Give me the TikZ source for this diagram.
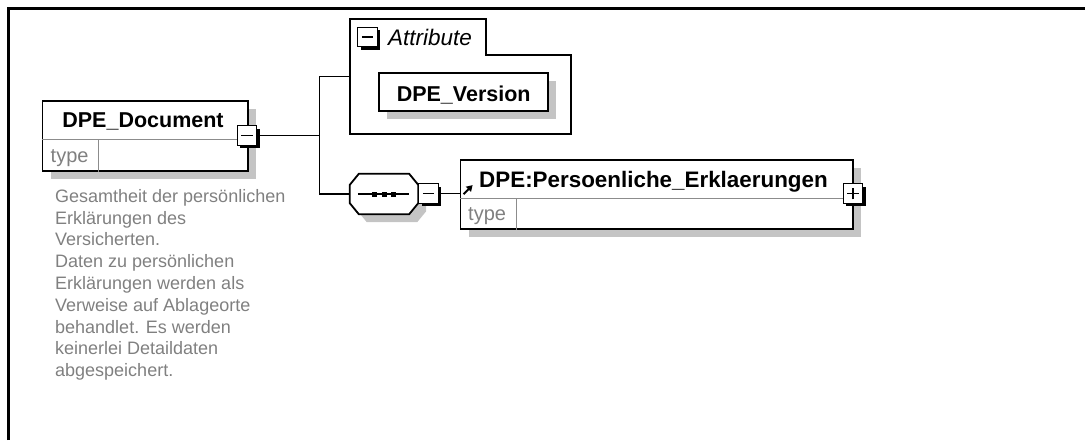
\documentclass[tikz,border=0pt]{standalone}
\usepackage{fontspec}
\setmainfont{Liberation Sans}
\usepackage{tikz}
\usetikzlibrary{arrows.meta, positioning, shadows}
\definecolor{xsgray}{HTML}{808080}
\definecolor{xsshade}{HTML}{C4C4C4}
\definecolor{xsline}{HTML}{8C8C8C}
\tikzset{
  elbox/.style={draw=black,fill=white,line width=1.8pt,inner sep=0pt,
    drop shadow={shadow xshift=8pt,shadow yshift=-8pt,fill=xsshade,opacity=1}},
  seqnode/.style={inner sep=0pt,minimum width=68pt,minimum height=40pt},
  seqoct/.style={insert path={([xshift=9pt]#1.north west) -- ([xshift=-9pt]#1.north east)
    -- ([yshift=-11pt]#1.north east) -- ([yshift=11pt]#1.south east)
    -- ([xshift=-9pt]#1.south east) -- ([xshift=9pt]#1.south west)
    -- ([yshift=11pt]#1.south west) -- ([yshift=-11pt]#1.north west) -- cycle}},
  togbox/.style={draw=black,fill=white,line width=1.4pt,minimum size=19.5pt,inner sep=0pt,
    drop shadow={shadow xshift=3pt,shadow yshift=-3pt,fill=black,opacity=1}},
  togminus/.style={togbox,path picture={
    \draw[line width=1.5pt] ([xshift=4pt]path picture bounding box.west) -- ([xshift=-4pt]path picture bounding box.east);}},
  togplus/.style={togbox,path picture={
    \draw[line width=1.5pt] ([xshift=4pt]path picture bounding box.west) -- ([xshift=-4pt]path picture bounding box.east);
    \draw[line width=1.5pt] ([yshift=4pt]path picture bounding box.south) -- ([yshift=-4pt]path picture bounding box.north);}},
  nametext/.style={inner sep=0pt,font=\bfseries\fontsize{21.5}{24}\selectfont},
  attrtext/.style={inner sep=0pt,font=\itshape\fontsize{22.5}{24}\selectfont},
  typetext/.style={inner sep=0pt,text=xsgray,font=\fontsize{20}{22}\selectfont},
  desctext/.style={inner sep=0pt,text=xsgray,align=left,font=\fontsize{18}{21.8}\selectfont},
  conedge/.style={line width=1.8pt,black},
  divline/.style={line width=1pt,xsline},
  grpline/.style={line width=1.8pt,black},
  refarrow/.style={-{Triangle[length=6pt,width=7pt]},line width=2pt},
}
\begin{document}
\begin{tikzpicture}[x=1pt,y=-1pt]
  \useasboundingbox (0,0) rectangle (1085,440);
  % frame
  \draw[line width=3pt,line join=miter] (8,440) -- (8,8) -- (1085,8);

  % root element
  \node[elbox,minimum width=205.5pt,minimum height=69.5pt] (nDoc) at (145.25,136) {};
  \draw[divline] ([yshift=-3.5pt]nDoc.west) -- ([yshift=-3.5pt]nDoc.east);
  \draw[divline] ([xshift=56.5pt,yshift=-3.5pt]nDoc.west) -- ([xshift=56.5pt]nDoc.south west);
  \node[nametext,anchor=base] (lDoc) at (143,127) {DPE\_Document};
  \node[typetext,anchor=base west] (yDoc) at (50.5,162) {type};
  \node[desctext,anchor=north west] (lDesc) at (55,189) {Gesamtheit der persönlichen\\Erklärungen des\\Versicherten.\\Daten zu persönlichen\\Erklärungen werden als\\Verweise auf Ablageorte\\behandlet. Es werden\\keinerlei Detaildaten\\abgespeichert.};
  \node[togminus] (tDoc) at (247,135.5) {};

  % attribute group
  \node[minimum width=221pt,minimum height=115pt,inner sep=0pt] (nAttr) at (460.5,76.5) {};
  \draw[grpline] (nAttr.south west) |- ([xshift=-85pt]nAttr.north east)
    |- ([yshift=-36pt]nAttr.north east) -- (nAttr.south east) -- cycle;
  \node[togminus] (tAttr) at (367.5,37) {};
  \node[attrtext,anchor=base west] (lAttr) at (388,45) {Attribute};
  \node[elbox,minimum width=169pt,minimum height=38pt] (nVer) at (463.7,92) {};
  \node[nametext,anchor=base] (lVer) at (463.7,101.5) {DPE\_Version};

  % sequence
  \node[seqnode] (nSeq) at (384,194) {};
  \begin{scope}[transform canvas={shift={(8,8)}}]
    \fill[xsshade,seqoct=nSeq];
  \end{scope}
  \draw[fill=white,line width=1.8pt,seqoct=nSeq];
  \draw[line width=1.3pt] ([xshift=8pt]nSeq.west) -- ([xshift=-9pt]nSeq.east);
  \foreach \dx in {-9.5,0,9.5}
    \fill ([xshift=\dx pt]nSeq.center) ++(-2.5,-2.5) rectangle ++(5,5);
  \node[togminus] (tSeq) at (428.5,193.5) {};

  % child element
  \node[elbox,minimum width=392.5pt,minimum height=69pt] (nPers) at (656.75,194.5) {};
  \draw[divline] ([yshift=-3.5pt]nPers.west) -- ([yshift=-3.5pt]nPers.east);
  \draw[divline] ([xshift=56.5pt,yshift=-3.5pt]nPers.west) -- ([xshift=56.5pt]nPers.south west);
  \node[nametext,font=\bfseries\fontsize{22.4}{24}\selectfont,anchor=base west] (lPers) at (479,187) {DPE:Persoenliche\_Erklaerungen};
  \node[typetext,anchor=base west] (yPers) at (468,220.5) {type};
  \draw[refarrow] ([shift={(4,35)}]nPers.north west) -- ++(9,-9);
  \node[togplus] (tPers) at (853,193.5) {};

  % connectors
  \coordinate (cFork) at (319.5,135.5);
  \draw[conedge] (tDoc.east) -- (cFork);
  \draw[conedge] (cFork) |- (nAttr.west);
  \draw[conedge] (cFork) |- (nSeq.west);
  \draw[conedge] (tSeq.east) -- (tSeq.east -| nPers.west);
\end{tikzpicture}
\end{document}
